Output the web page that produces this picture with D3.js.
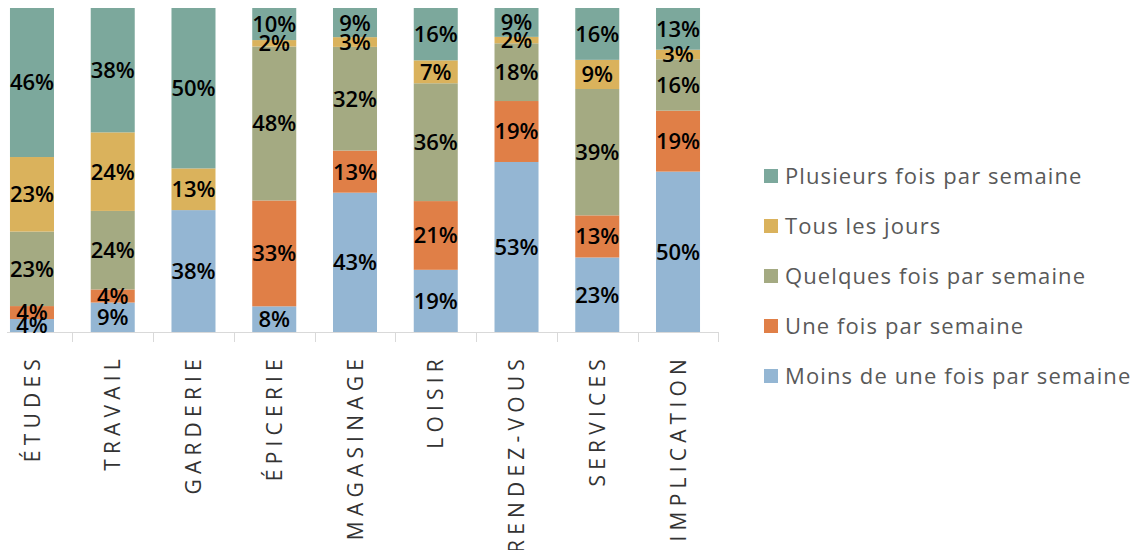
<!DOCTYPE html>
<html>
<head>
<meta charset="utf-8">
<title>Fréquence des déplacements</title>
<script src="https://cdn.jsdelivr.net/npm/d3@7"></script>
<style>
  body { margin: 0; background: #fff; }
  .lbl { font-family: "Open Sans", sans-serif; font-weight: 600; font-size: 22px; fill: #000; }
  .cat text { font-family: "Open Sans", sans-serif; font-size: 21px; fill: #333; letter-spacing: 5.2px; }
  .legend text { font-family: "Open Sans", sans-serif; font-size: 22px; fill: #595959; letter-spacing: 1.1px; }
</style>
</head>
<body>
<script>
// categories + series
var categories = ["ÉTUDES", "TRAVAIL", "GARDERIE", "ÉPICERIE", "MAGASINAGE", "LOISIR", "RENDEZ-VOUS", "SERVICES", "IMPLICATION"];
var moins        = [4, 9, 38, 8, 43, 19, 53, 23, 50];
var uneFois      = [4, 4, 0, 33, 13, 21, 19, 13, 19];
var quelques     = [23, 24, 0, 48, 32, 36, 18, 39, 16];
var tousLesJours = [23, 24, 13, 2, 3, 7, 2, 9, 3];
var plusieurs    = [46, 38, 50, 10, 9, 16, 9, 16, 13];

var seriesNames = ["Moins de une fois par semaine", "Une fois par semaine", "Quelques fois par semaine", "Tous les jours", "Plusieurs fois par semaine"];
var colors = ["#94B6D3", "#E07F47", "#A4AA82", "#DAB25C", "#7CA89C"];

var width = 1137, height = 550;

var rows = categories.map(function(c, i) {
  return {cat: c, s0: moins[i], s1: uneFois[i], s2: quelques[i], s3: tousLesJours[i], s4: plusieurs[i]};
});

var stack = d3.stack()
  .keys(["s0", "s1", "s2", "s3", "s4"])
  .offset(d3.stackOffsetExpand);
var layers = stack(rows);

var x = d3.scaleBand()
  .domain(categories)
  .range([-8.4, 718.4])
  .paddingInner(0.455)
  .paddingOuter(0.2275);

var y = d3.scaleLinear()
  .domain([0, 1])
  .range([332, 8]);

var svg = d3.select("body").append("svg")
  .attr("width", width)
  .attr("height", height);

var g = svg.append("g");

g.selectAll("g.layer")
  .data(layers)
  .enter().append("g")
  .attr("class", "layer")
  .attr("fill", function(d, i) { return colors[i]; })
  .selectAll("rect")
  .data(function(d) { return d; })
  .enter().append("rect")
  .attr("x", function(d) { return x(d.data.cat); })
  .attr("width", x.bandwidth())
  .attr("y", function(d) { return y(d[1]); })
  .attr("height", function(d) { return y(d[0]) - y(d[1]); });

// axis line and boundary ticks
var step = x.step();
var bounds = categories.map(function(c) { return x(c) - step * x.paddingInner() / 2; });
bounds.push(x(categories[categories.length - 1]) + x.bandwidth() + step * x.paddingInner() / 2);

g.append("line")
  .attr("x1", 7).attr("x2", bounds[bounds.length - 1])
  .attr("y1", 332.5).attr("y2", 332.5)
  .attr("stroke", "#d9d9d9");

g.selectAll("line.tick")
  .data(bounds)
  .enter().append("line")
  .attr("class", "tick")
  .attr("x1", function(d) { return Math.round(d) + 0.5; })
  .attr("x2", function(d) { return Math.round(d) + 0.5; })
  .attr("y1", 332).attr("y2", 342)
  .attr("stroke", "#d9d9d9");

// value labels
layers.forEach(function(layer, i) {
  var vals = [moins, uneFois, quelques, tousLesJours, plusieurs][i];
  g.append("g").selectAll("text")
    .data(layer.filter(function(d, j) { return vals[j] > 0; }))
    .enter().append("text")
    .attr("class", "lbl")
    .attr("text-anchor", "middle")
    .attr("dy", "0.36em")
    .attr("x", function(d) { return x(d.data.cat) + x.bandwidth() / 2; })
    .attr("y", function(d) { return (y(d[0]) + y(d[1])) / 2; })
    .text(function(d) { return vals[categories.indexOf(d.data.cat)] + "%"; });
});

// category labels, rotated
var cat = svg.append("g")
  .attr("class", "cat")
  .attr("transform", "translate(0,332)")
  .call(d3.axisBottom(x).tickSize(0).tickPadding(0));
cat.select(".domain").remove();
cat.selectAll("text")
  .attr("transform", "rotate(-90)")
  .attr("text-anchor", "end")
  .attr("x", -22)
  .attr("y", 0)
  .attr("dy", "0.36em");

// legend
var legendOrder = [4, 3, 2, 1, 0];
var legend = svg.append("g").attr("class", "legend")
  .selectAll("g")
  .data(legendOrder)
  .enter().append("g")
  .attr("transform", function(d, i) { return "translate(764," + (176 + i * 50) + ")"; });

legend.append("rect")
  .attr("x", 0).attr("y", -7)
  .attr("width", 14).attr("height", 14)
  .attr("fill", function(d) { return colors[d]; });

legend.append("text")
  .attr("x", 21)
  .attr("dy", "0.36em")
  .text(function(d) { return seriesNames[d]; });
</script>
</body>
</html>
